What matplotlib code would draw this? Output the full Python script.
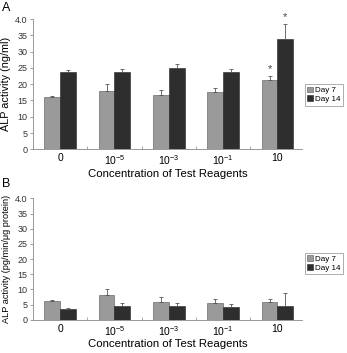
import matplotlib
matplotlib.use("Agg")
import matplotlib.pyplot as plt
import numpy as np

plt.rcParams["font.family"] = ["Liberation Sans", "DejaVu Sans"]
plt.rcParams["mathtext.default"] = "regular"

concentrations = ["0", "$10^{-5}$", "$10^{-3}$", "$10^{-1}$", "10"]
y_ticks = [0, 5, 10, 15, 20, 25, 30, 35, 40]
y_tick_labels = ["0", "5", "10", "15", "20", "25", "30", "35", "4.0"]

# Panel A: ALP activity (ng/ml)
a_day7 = [16.0, 17.8, 16.6, 17.5, 21.4]
a_day7_err = [0.5, 2.3, 1.5, 1.2, 1.0]
a_day14 = [23.8, 23.6, 25.1, 23.8, 34.0]
a_day14_err = [0.6, 1.0, 1.1, 1.0, 4.4]

# Panel B: ALP activity (pg/min/ug protein)
b_day7 = [6.1, 8.2, 6.0, 5.7, 6.0]
b_day7_err = [0.3, 1.9, 1.4, 1.2, 0.8]
b_day14 = [3.5, 4.6, 4.6, 4.2, 4.6]
b_day14_err = [0.4, 0.9, 0.9, 1.1, 4.3]

GREY = "#9a9a9a"
DARK = "#2e2e2e"
W = 0.29


def draw_panel(ax, d7, e7, d14, e14, ylabel, ylabel_size, legend_y):
    x = np.arange(len(concentrations))
    err_kw = dict(ecolor="#555555", elinewidth=0.6, capsize=1.5, capthick=0.6)
    ax.bar(x - W / 2, d7, W, yerr=[np.zeros(5), e7], color=GREY,
           edgecolor="#555555", linewidth=0.4, error_kw=err_kw, label="Day 7")
    ax.bar(x + W / 2, d14, W, yerr=[np.zeros(5), e14], color=DARK,
           edgecolor="#222222", linewidth=0.4, error_kw=err_kw, label="Day 14")
    ax.set_xlim(-0.5, 4.45)
    ax.set_ylim(0, 40)
    ax.set_yticks(y_ticks)
    ax.set_yticklabels(y_tick_labels, fontsize=6.5, color="#333333")
    ax.set_xticks(x)
    ax.set_xticklabels(concentrations, fontsize=7.5)
    ax.set_xticks(np.arange(0.5, 4.5, 1), minor=True)
    ax.tick_params(axis="x", which="major", length=0, pad=3)
    ax.tick_params(axis="x", which="minor", length=2, direction="in", color="#999999")
    ax.tick_params(axis="y", length=2.5, width=0.5, color="#777777", pad=1.5)
    for side in ("top", "right"):
        ax.spines[side].set_visible(False)
    for side in ("left", "bottom"):
        ax.spines[side].set_linewidth(0.6)
        ax.spines[side].set_color("#888888")
    ax.set_xlabel("Concentration of Test Reagents", fontsize=8.2, labelpad=1)
    ax.set_ylabel(ylabel, fontsize=ylabel_size, labelpad=3)
    leg = ax.legend(loc="upper left", bbox_to_anchor=(1.01, legend_y), fontsize=5.8,
                    frameon=True, fancybox=False, handlelength=0.7, handleheight=0.7,
                    handletextpad=0.3, borderpad=0.3, labelspacing=0.15, borderaxespad=0)
    leg.get_frame().set_edgecolor("#888888")
    leg.get_frame().set_linewidth(0.6)
    return x


fig = plt.figure(figsize=(3.47, 3.53), dpi=100)
ax_a = fig.add_axes([0.095, 0.577, 0.775, 0.369])
ax_b = fig.add_axes([0.095, 0.094, 0.775, 0.344])

x = draw_panel(ax_a, a_day7, a_day7_err, a_day14, a_day14_err,
               "ALP activity (ng/ml)", 7.8, 0.5)
# significance marks
ax_a.text(x[4] - W / 2, a_day7[4] + a_day7_err[4] + 0.6, "*", ha="center",
          va="bottom", fontsize=8, color="#444444")
ax_a.text(x[4] + W / 2, a_day14[4] + a_day14_err[4] + 0.6, "*", ha="center",
          va="bottom", fontsize=8, color="#444444")

draw_panel(ax_b, b_day7, b_day7_err, b_day14, b_day14_err,
           "ALP activity (pg/min/\u03bcg protein)", 6.6, 0.55)

fig.text(0.005, 0.995, "A", fontsize=9, va="top", ha="left")
fig.text(0.005, 0.495, "B", fontsize=9, va="top", ha="left")

fig.savefig("out.png", dpi=100)
